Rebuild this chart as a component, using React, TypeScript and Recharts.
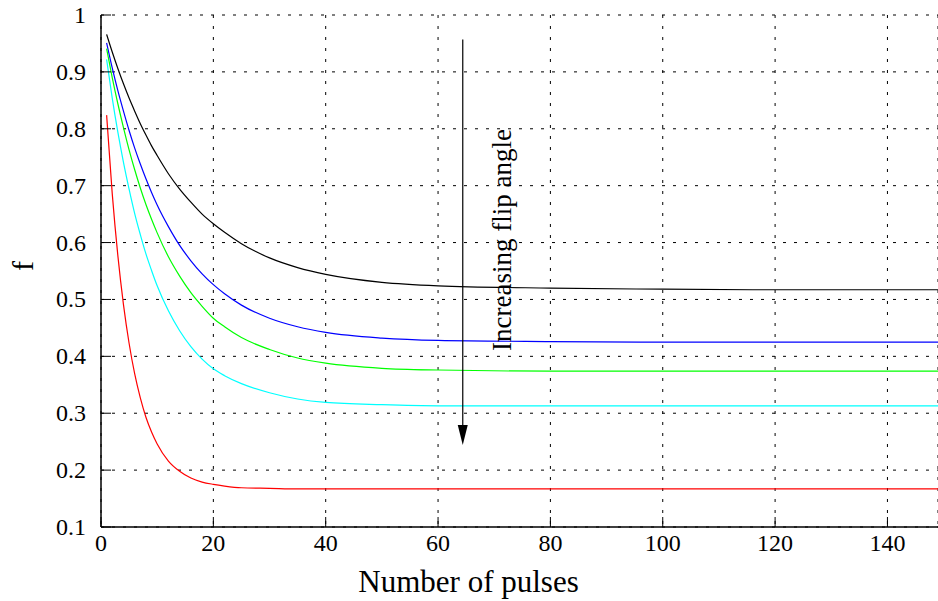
import { LineChart, Line, XAxis, YAxis, CartesianGrid, ReferenceLine, Label } from "recharts"

// number of pulses
const pulses = [1, 2, 3, 4, 5, 6, 7, 8, 9, 10, 12, 14, 16, 18, 20, 22, 25, 30, 35, 40, 50, 60, 80, 100, 120, 149]

// f per curve, smallest flip angle first
const black = [0.966, 0.935, 0.906, 0.879, 0.854, 0.831, 0.809, 0.789, 0.770, 0.753, 0.721, 0.694, 0.671, 0.650, 0.633, 0.618, 0.598, 0.573, 0.556, 0.544, 0.530, 0.524, 0.520, 0.518, 0.517, 0.517]
const blue = [0.951, 0.907, 0.867, 0.831, 0.797, 0.766, 0.738, 0.712, 0.688, 0.666, 0.628, 0.595, 0.568, 0.545, 0.526, 0.510, 0.490, 0.467, 0.452, 0.442, 0.432, 0.428, 0.426, 0.425, 0.425, 0.425]
const green = [0.941, 0.890, 0.844, 0.802, 0.763, 0.728, 0.696, 0.667, 0.641, 0.617, 0.575, 0.541, 0.512, 0.488, 0.467, 0.452, 0.433, 0.412, 0.397, 0.388, 0.379, 0.376, 0.374, 0.374, 0.374, 0.374]
const cyan = [0.922, 0.854, 0.794, 0.741, 0.694, 0.651, 0.614, 0.580, 0.551, 0.524, 0.480, 0.445, 0.417, 0.395, 0.378, 0.366, 0.352, 0.336, 0.325, 0.319, 0.315, 0.313, 0.313, 0.313, 0.313, 0.313]
const red = [0.824, 0.686, 0.577, 0.491, 0.423, 0.369, 0.327, 0.293, 0.267, 0.246, 0.216, 0.198, 0.186, 0.179, 0.175, 0.172, 0.169, 0.168, 0.167, 0.167, 0.167, 0.167, 0.167, 0.167, 0.167, 0.167]

const xTicks = [0, 20, 40, 60, 80, 100, 120, 140]
const yTicks = [0.1, 0.2, 0.3, 0.4, 0.5, 0.6, 0.7, 0.8, 0.9, 1]

const data = pulses.map((x, i) => ({
    x,
    black: black[i],
    blue: blue[i],
    green: green[i],
    cyan: cyan[i],
    red: red[i],
}))

const series = [
    { key: "black", color: "#000000" },
    { key: "blue", color: "#0000ff" },
    { key: "green", color: "#00ff00" },
    { key: "cyan", color: "#00ffff" },
    { key: "red", color: "#ff0000" },
]

const font = "'Liberation Serif', serif"

function XTick(props: any) {
    const { x, y, payload } = props
    return (
        <text x={x} y={y} dy={17} textAnchor="middle" fill="#000" style={{ fontFamily: font, fontSize: 24 }}>
            {payload.value}
        </text>
    )
}

function YTick(props: any) {
    const { x, y, payload } = props
    return (
        <text x={x} y={y} dy={8} textAnchor="end" fill="#000" style={{ fontFamily: font, fontSize: 24 }}>
            {String(payload.value)}
        </text>
    )
}

function Arrow(props: any) {
    const { x1, y1, y2 } = props
    return (
        <g>
            <line x1={x1} y1={y1} x2={x1} y2={y2 - 18} stroke="#000" strokeWidth={1.2} />
            <path d={`M${x1 - 5},${y2 - 20} L${x1 + 5},${y2 - 20} L${x1},${y2} Z`} fill="#000" />
            <text
                x={x1 + 48}
                y={240}
                transform={`rotate(-90, ${x1 + 48}, 240)`}
                textAnchor="middle"
                fill="#000"
                style={{ fontFamily: font, fontSize: 27 }}
            >
                Increasing flip angle
            </text>
        </g>
    )
}

export default function App() {
    return (
        <div style={{ width: 938, height: 601 }}>
            <style>{`body { margin: 0; }`}</style>
            <LineChart width={938} height={601} data={data} margin={{ top: 15, right: 0, left: 0, bottom: 0 }}>
                <CartesianGrid stroke="#000" strokeDasharray="3 8" strokeWidth={1} />
                <XAxis
                    dataKey="x"
                    type="number"
                    domain={[0, 149]}
                    ticks={xTicks}
                    height={74}
                    tickSize={-10}
                    tickMargin={17}
                    axisLine={{ stroke: "#000", strokeWidth: 1.5 }}
                    tickLine={{ stroke: "#000" }}
                    tick={XTick}
                    allowDataOverflow
                >
                    <Label value="Number of pulses" position="insideBottom" offset={9} dx={-51} fill="#000" fontSize={31} fontFamily={font} />
                </XAxis>
                <XAxis
                    xAxisId="top"
                    orientation="top"
                    dataKey="x"
                    type="number"
                    domain={[0, 149]}
                    ticks={xTicks}
                    height={0}
                    tick={false}
                    tickSize={-10}
                    axisLine={{ stroke: "#000", strokeWidth: 1.5 }}
                    tickLine={{ stroke: "#000" }}
                    allowDataOverflow
                />
                <YAxis
                    type="number"
                    domain={[0.1, 1]}
                    ticks={yTicks}
                    width={101}
                    tickSize={-10}
                    tickMargin={25}
                    axisLine={{ stroke: "#000", strokeWidth: 1.5 }}
                    tickLine={{ stroke: "#000" }}
                    tick={YTick}
                    allowDataOverflow
                >
                    <Label value="f" angle={-90} position="insideLeft" offset={22} fill="#000" fontSize={30} fontFamily={font} />
                </YAxis>
                {series.map((s) => (
                    <Line
                        key={s.key}
                        dataKey={s.key}
                        type="monotone"
                        stroke={s.color}
                        strokeWidth={1.2}
                        dot={false}
                        isAnimationActive={false}
                    />
                ))}
                <ReferenceLine
                    segment={[{ x: 64.4, y: 0.957 }, { x: 64.4, y: 0.244 }]}
                    shape={Arrow}
                />
            </LineChart>
        </div>
    )
}
